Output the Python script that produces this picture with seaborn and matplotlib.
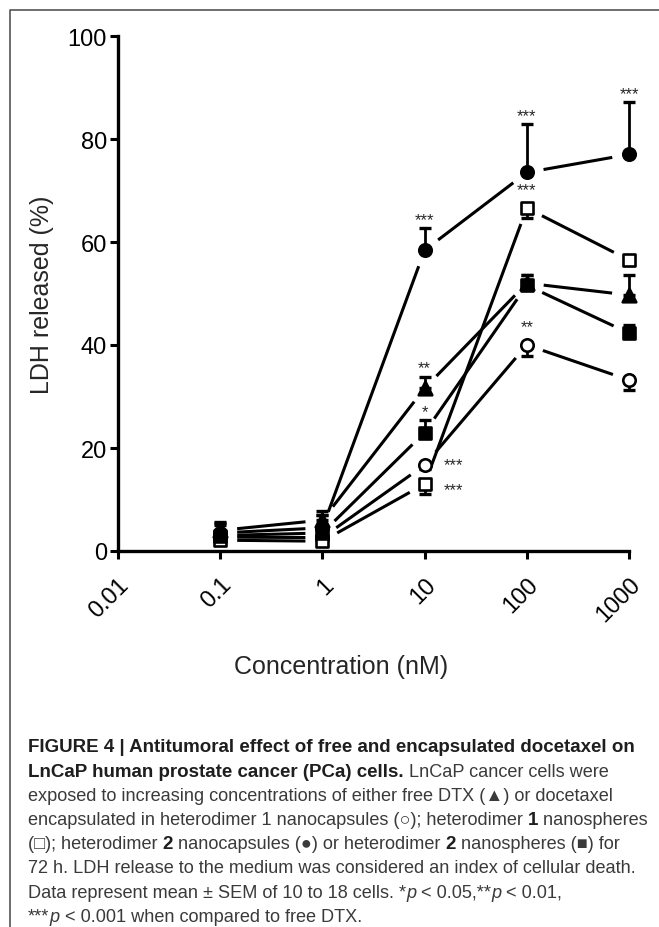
import numpy as np
import matplotlib
matplotlib.use('Agg')
import matplotlib.pyplot as plt
import seaborn as sns
from matplotlib.lines import Line2D

# concentrations (nM) and LDH release (%)
conc = [0.1, 1, 10, 100, 1000]

free_dtx = [4.0, 6.0, 31.6, 52.0, 49.7]
free_dtx_up = [1.7, 1.7, 2.2, 1.5, 3.9]
free_dtx_dn = [0, 0, 0, 0, 0]

het1_nc = [2.7, 2.6, 16.7, 40.0, 33.2]
het1_nc_up = [0, 0, 0, 0, 0]
het1_nc_dn = [0.8, 0.8, 0.8, 2.2, 1.9]

het1_ns = [2.1, 1.9, 13.0, 66.6, 56.5]
het1_ns_up = [0, 0, 0, 0, 0]
het1_ns_dn = [0.8, 0.5, 2.0, 1.9, 1.0]

het2_nc = [3.5, 4.5, 58.4, 73.5, 77.0]
het2_nc_up = [1.5, 2.5, 4.3, 9.4, 10.1]
het2_nc_dn = [0, 0, 0, 0, 0]

het2_ns = [3.0, 3.5, 23.0, 51.6, 42.3]
het2_ns_up = [2.4, 3.5, 2.4, 1.9, 1.6]
het2_ns_dn = [0, 0, 0, 0, 0]

# significance vs free DTX
free_dtx_sig = ['', '', '**', '', '']
het1_nc_sig = ['', '', '***', '**', '']
het1_ns_sig = ['', '', '***', '***', '']
het2_nc_sig = ['', '', '***', '***', '***']
het2_ns_sig = ['', '', '*', '', '']

xticks = [0.01, 0.1, 1, 10, 100, 1000]
xticklabels = ['0.01', '0.1', '1', '10', '100', '1000']
yticks = [0, 20, 40, 60, 80, 100]

sns.set_style('ticks')
plt.rcParams['font.family'] = ['Liberation Sans', 'DejaVu Sans']

W, H = 659, 928
fig = plt.figure(figsize=(W / 100, H / 100), dpi=100)
ax = fig.add_axes([118 / W, 1 - 552 / H, (629 - 118) / W, (552 - 37) / H])
ax.set_xscale('log')
ax.set_xlim(0.01, 1000)
ax.set_ylim(0, 100)


def gapped_line(xs, ys, gap=17):
    # prism style: lines stop short of the symbols
    pts = ax.transData.transform(np.column_stack([xs, ys]))
    inv = ax.transData.inverted()
    for p0, p1 in zip(pts[:-1], pts[1:]):
        d = p1 - p0
        L = np.hypot(d[0], d[1])
        if L <= 2 * gap:
            continue
        u = d / L
        a = inv.transform(p0 + u * gap)
        b = inv.transform(p1 - u * gap)
        ax.plot([a[0], b[0]], [a[1], b[1]], color='black', lw=2.2,
                solid_capstyle='butt', zorder=2, clip_on=False)


series = [
    (free_dtx, free_dtx_dn, free_dtx_up, free_dtx_sig, '^', 'black'),
    (het1_nc, het1_nc_dn, het1_nc_up, het1_nc_sig, 'o', 'white'),
    (het1_ns, het1_ns_dn, het1_ns_up, het1_ns_sig, 's', 'white'),
    (het2_nc, het2_nc_dn, het2_nc_up, het2_nc_sig, 'o', 'black'),
    (het2_ns, het2_ns_dn, het2_ns_up, het2_ns_sig, 's', 'black'),
]

for i, (vals, dn, up, sig, mk, face) in enumerate(series):
    gapped_line(conc, vals)
    ax.errorbar(conc, vals, yerr=[dn, up], fmt='none', ecolor='black',
                elinewidth=2.0, capsize=4.5, capthick=2.4, zorder=3 + i,
                clip_on=False)
    size = 95 if mk == '^' else 80
    sns.scatterplot(x=conc, y=vals, marker=mk, s=size, color=face,
                    edgecolor='black', linewidth=1.9, ax=ax, zorder=3.5 + i,
                    clip_on=False)
    for x, v, u, d, s in zip(conc, vals, up, dn, sig):
        if not s:
            continue
        if x == 10 and face == 'white':
            # labels to the right of the open symbols
            ax.annotate(s, (x, v), xytext=(14, -4 if mk == 's' else 0),
                        textcoords='offset points', ha='left', va='center',
                        fontsize=12)
        else:
            top = v + u
            off = 1 if u > 0 else 8
            ax.annotate(s, (x, top), xytext=(0, off), textcoords='offset points',
                        ha='center', va='bottom', fontsize=12)

ax.set_xticks(xticks)
ax.set_xticklabels(xticklabels, rotation=45, ha='right', va='top',
                   rotation_mode='anchor')
ax.minorticks_off()
ax.set_yticks(yticks)
ax.tick_params(axis='both', direction='out', length=6, width=2.2,
               labelsize=17, color='black', labelcolor='black')
ax.tick_params(axis='x', pad=10)
ax.tick_params(axis='y', pad=2)
for sp in ['top', 'right']:
    ax.spines[sp].set_visible(False)
for sp in ['left', 'bottom']:
    ax.spines[sp].set_linewidth(2.4)
    ax.spines[sp].set_color('black')

ax.set_xlabel('Concentration (nM)', fontsize=18)
ax.set_ylabel('LDH released (%)', fontsize=18)
ax.xaxis.set_label_coords(0.436, -0.2)
ax.yaxis.set_label_coords(-0.125, 0.5)

# frame round the figure panel
fig.add_artist(Line2D([10 / W, 10 / W, 1], [0, 1 - 11 / H, 1 - 11 / H],
                      transform=fig.transFigure, color='#555555', lw=1.2))

# caption
cap_lines = [
    [('FIGURE 4 | Antitumoral effect of free and encapsulated docetaxel on', 'bold', 'normal')],
    [('LnCaP human prostate cancer (PCa) cells.', 'bold', 'normal'),
     (' LnCaP cancer cells were', 'normal', 'normal')],
    [('exposed to increasing concentrations of either free DTX (\u25b2) or docetaxel', 'normal', 'normal')],
    [('encapsulated in heterodimer 1 nanocapsules (\u25cb); heterodimer ', 'normal', 'normal'),
     ('1', 'bold', 'normal'), (' nanospheres', 'normal', 'normal')],
    [('(\u25a1); heterodimer ', 'normal', 'normal'), ('2', 'bold', 'normal'),
     (' nanocapsules (\u25cf) or heterodimer ', 'normal', 'normal'), ('2', 'bold', 'normal'),
     (' nanospheres (\u25a0) for', 'normal', 'normal')],
    [('72 h. LDH release to the medium was considered an index of cellular death.', 'normal', 'normal')],
    [('Data represent mean \u00b1 SEM of 10 to 18 cells. *', 'normal', 'normal'),
     ('p', 'normal', 'italic'), (' < 0.05,**', 'normal', 'normal'),
     ('p', 'normal', 'italic'), (' < 0.01,', 'normal', 'normal')],
    [('***', 'normal', 'normal'), ('p', 'normal', 'italic'),
     (' < 0.001 when compared to free DTX.', 'normal', 'normal')],
]

renderer = fig.canvas.get_renderer()
for i, segs in enumerate(cap_lines):
    x = 28
    y = 748 + 24.2 * i
    for txt, wt, st in segs:
        t = fig.text(x / W, 1 - y / H, txt, fontsize=13.5 if wt == 'bold' else 13.1,
                     fontweight=wt, fontstyle=st, va='center', ha='left',
                     color='#1e1e1e' if wt == 'bold' else '#3a3a3a')
        x += t.get_window_extent(renderer).width

fig.savefig('out.png', dpi=100)
